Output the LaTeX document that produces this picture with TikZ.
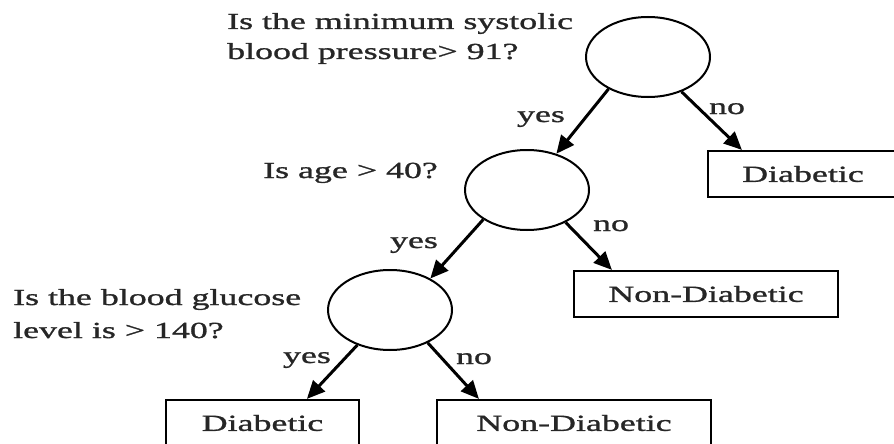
\documentclass[tikz,border=0pt]{standalone}
\usepackage{fontspec}
\setmainfont{Liberation Serif}[FakeStretch=1.56,FakeBold=1.2]
\usetikzlibrary{shapes.geometric,arrows.meta,calc}
\begin{document}
\begin{tikzpicture}[x=1pt,y=-1pt,
  txt/.style={font=\fontsize{23}{30}\selectfont,text=black!85},
  decision/.style={ellipse,draw,line width=2pt,minimum width=124pt,minimum height=80pt,inner sep=0pt},
  leaf/.style={rectangle,draw,line width=2.2pt,minimum height=46pt,inner sep=0pt,txt},
  question/.style={anchor=base west,inner sep=0pt,txt},
  answer/.style={anchor=base,inner sep=0pt,txt},
  branch/.style={line width=3pt,-{Triangle[length=18pt,width=16pt]}}]
\useasboundingbox (0,0) rectangle (894,444);

% decision nodes
\node[decision] (E1) at (648,57) {};
\node[decision] (E2) at (527,190) {};
\node[decision] (E3) at (390,310) {};

% outcomes
\node[leaf,minimum width=190pt] (D1) at (803,174) {Diabetic};
\node[leaf,minimum width=264pt] (N1) at (706,294) {Non-Diabetic};
\node[leaf,minimum width=193pt] (D2) at (262.5,423) {Diabetic};
\node[leaf,minimum width=274pt] (N2) at (574,423) {Non-Diabetic};

% branches
\draw[branch] (E1.219) -- (E2.51);
\draw[branch] (E1.314) -- ($(D1.north west)+(35,0)$);
\draw[branch] (E2.214) -- (E3.38);
\draw[branch] (E2.320) -- ($(N1.north west)+(39,0)$);
\draw[branch] (E3.227) -- ($(D2.north west)+(142,0)$);
\draw[branch] (E3.319) -- ($(N2.north west)+(43,0)$);

% questions
\node[question] (q1a) at (227,29) {Is the minimum systolic};
\node[question] (q1b) at (227,59) {blood pressure> 91?};
\node[question] (q2) at (263,178) {Is age > 40?};
\node[question] (q3a) at (13,305) {Is the blood glucose};
\node[question] (q3b) at (13,338) {level is > 140?};

% branch labels
\node[answer] (y1) at (541,122) {yes};
\node[answer] (n1) at (727,114) {no};
\node[answer] (y2) at (414,248) {yes};
\node[answer] (n2) at (611,231) {no};
\node[answer] (y3) at (307,363) {yes};
\node[answer] (n3) at (474,364) {no};
\end{tikzpicture}
\end{document}
